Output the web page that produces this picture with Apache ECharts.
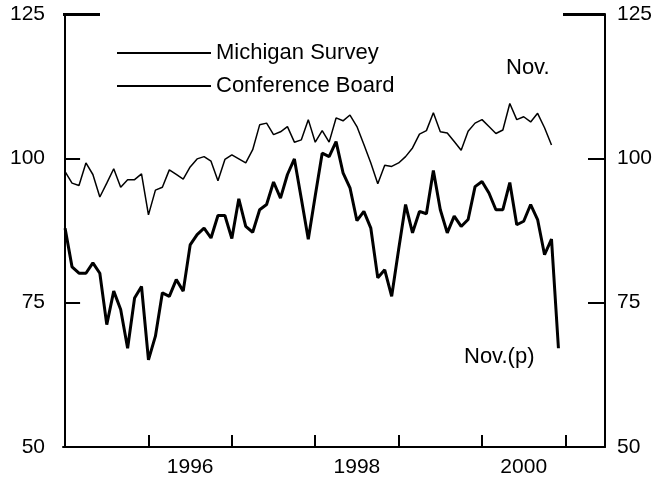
<!DOCTYPE html>
<html>
<head>
<meta charset="utf-8">
<script src="https://cdn.jsdelivr.net/npm/echarts@6/dist/echarts.min.js"></script>
<style>html,body{margin:0;padding:0;background:#fff}#c{width:659px;height:482px}</style>
</head>
<body>
<div id="c"></div>
<script>
// Monthly index, month 0 = first observation (early 1995)
const michigan = [87.9,81.2,80.1,80.1,81.9,80.1,71.2,77.0,73.8,67.1,75.8,77.8,
  65.1,69.2,76.7,76.1,79.0,77.0,85.0,86.8,87.9,86.2,90.1,90.1,
  86.1,93.0,88.2,87.2,91.1,92.0,95.9,93.1,97.2,99.9,93.0,86.0,
  93.5,100.9,100.3,102.9,97.5,94.9,89.2,90.8,87.9,79.3,80.7,76.1,
  84.2,92.0,87.1,90.8,90.4,97.9,91.1,87.1,90.0,88.2,89.4,95.1,
  96.0,94.0,91.1,91.1,95.8,88.5,89.1,92.0,89.4,83.3,86.0,67.1];
const conference = [97.7,95.7,95.3,99.2,97.2,93.3,95.7,98.2,95.0,96.3,96.3,97.3,
  90.2,94.5,95.0,98.0,97.2,96.4,98.5,99.9,100.3,99.5,96.1,99.8,
  100.6,99.9,99.2,101.5,105.8,106.1,104.1,104.6,105.5,102.8,103.2,106.7,
  102.8,104.8,102.8,107.0,106.5,107.5,105.5,102.4,99.2,95.6,98.8,98.6,
  99.2,100.3,101.8,104.2,104.8,107.9,104.6,104.4,102.9,101.4,104.7,106.1,
  106.7,105.5,104.3,104.9,109.5,106.7,107.2,106.3,107.8,105.3,102.3];
const yearTicks = [12, 24, 36, 48, 60, 72];      // year boundaries (months)
const yearLabelPos = [18, 42, 66];                // mid-year label positions
const yearLabels = ['1996', '1998', '2000'];
const yTicks = [50, 75, 100, 125];

const FONT = 'Liberation Sans, Arial, Helvetica, sans-serif';
const toPairs = arr => arr.map((v, i) => [i, v]);

const chart = echarts.init(document.getElementById('c'), null, {renderer: 'canvas'});
const baseY = {
  type: 'value', min: 50, max: 125, interval: 25,
  splitLine: {show: false},
  axisLine: {show: true, lineStyle: {color: '#000', width: 2}}
};
chart.setOption({
  animation: false,
  backgroundColor: '#fff',
  grid: {left: 63, right: 54, top: 14, bottom: 35, containLabel: false},
  legend: {
    orient: 'vertical', left: 117, top: 41, padding: 0,
    itemWidth: 94, itemHeight: 2, itemGap: 9,
    data: [
      {name: 'Michigan Survey', icon: 'rect', itemStyle: {color: '#000'}},
      {name: 'Conference Board', icon: 'rect', itemStyle: {color: '#000'}}
    ],
    textStyle: {fontFamily: FONT, fontSize: 22, lineHeight: 24, color: '#000'}
  },
  xAxis: {
    type: 'value', min: -0.3, max: 77.7,
    splitLine: {show: false},
    axisLine: {show: true, lineStyle: {color: '#000', width: 2}},
    axisTick: {show: true, inside: true, length: 12, lineStyle: {color: '#000', width: 2}, customValues: yearTicks},
    axisLabel: {
      show: true, customValues: yearLabelPos, margin: 10,
      fontFamily: FONT, fontSize: 21, color: '#000',
      formatter: v => yearLabels[yearLabelPos.indexOf(v)] || ''
    }
  },
  yAxis: [
    Object.assign({}, baseY, {
      position: 'left',
      axisTick: {show: true, inside: true, length: 15, lineStyle: {color: '#000', width: 2}, customValues: [75, 100]},
      axisLabel: {show: true, margin: 18, fontFamily: FONT, fontSize: 21, color: '#000', customValues: yTicks}
    }),
    Object.assign({}, baseY, {
      position: 'right',
      axisTick: {show: true, inside: true, length: 17, lineStyle: {color: '#000', width: 2}, customValues: [75, 100]},
      axisLabel: {show: true, margin: 12, fontFamily: FONT, fontSize: 21, color: '#000', customValues: yTicks}
    }),
    Object.assign({}, baseY, {
      position: 'left', axisLine: {show: false},
      axisTick: {show: true, inside: true, length: 37, lineStyle: {color: '#000', width: 3}, customValues: [125]},
      axisLabel: {show: false}
    }),
    Object.assign({}, baseY, {
      position: 'right', axisLine: {show: false},
      axisTick: {show: true, inside: true, length: 42, lineStyle: {color: '#000', width: 3}, customValues: [125]},
      axisLabel: {show: false}
    })
  ],
  series: [
    {
      name: 'Michigan Survey', type: 'line', yAxisIndex: 0,
      data: toPairs(michigan), showSymbol: false, symbol: 'none',
      lineStyle: {color: '#000', width: 3}, itemStyle: {color: '#000'}
    },
    {
      name: 'Conference Board', type: 'line', yAxisIndex: 0,
      data: toPairs(conference), showSymbol: false, symbol: 'none',
      lineStyle: {color: '#000', width: 1.5}, itemStyle: {color: '#000'}
    }
  ],
  graphic: [
    {type: 'text', left: 506, top: 57, style: {text: 'Nov.', font: '22px ' + FONT, fill: '#000'}},
    {type: 'text', left: 464, top: 346, style: {text: 'Nov.(p)', font: '22px ' + FONT, fill: '#000'}}
  ]
});
</script>
</body>
</html>
